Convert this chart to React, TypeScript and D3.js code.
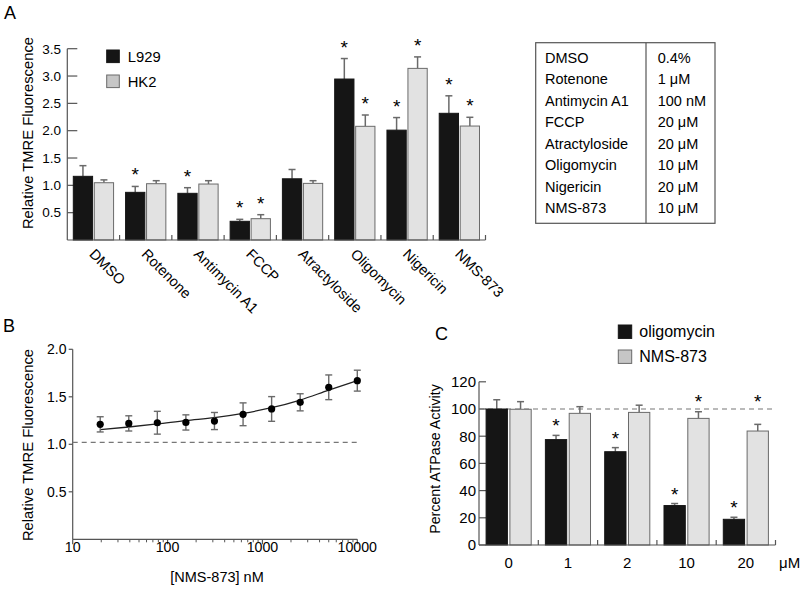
import React from "react";
import * as d3 from "d3";

const FONT = "'Liberation Sans', Arial, Helvetica, sans-serif";

// Panel A data
const categories = ["DMSO", "Rotenone", "Antimycin A1", "FCCP", "Atractyloside", "Oligomycin", "Nigericin", "NMS-873"];
const seriesA = ["L929", "HK2"];
const l929 = [1.165, 0.872, 0.854, 0.342, 1.12, 2.945, 2.01, 2.318];
const l929Err = [0.195, 0.108, 0.103, 0.036, 0.17, 0.375, 0.23, 0.32];
const hk2 = [1.048, 1.03, 1.024, 0.39, 1.036, 2.08, 3.14, 2.085];
const hk2Err = [0.052, 0.055, 0.061, 0.073, 0.049, 0.207, 0.21, 0.16];
const l929Star = [false, true, true, true, false, true, true, true];
const hk2Star = [false, false, false, true, false, true, true, true];
const yTicksA = [0.5, 1.0, 1.5, 2.0, 2.5, 3.0, 3.5];

// Table
const tableDrugs = ["DMSO", "Rotenone", "Antimycin A1", "FCCP", "Atractyloside", "Oligomycin", "Nigericin", "NMS-873"];
const tableDoses = ["0.4%", "1 \u03bcM", "100 nM", "20 \u03bcM", "20 \u03bcM", "10 \u03bcM", "20 \u03bcM", "10 \u03bcM"];

// Panel B data
const concB = [19.5, 39, 78, 156, 312, 625, 1250, 2500, 5000, 10000];
const meanB = [1.21, 1.22, 1.227, 1.23, 1.245, 1.316, 1.372, 1.442, 1.6, 1.67];
const errB = [0.08, 0.08, 0.12, 0.08, 0.09, 0.12, 0.13, 0.09, 0.13, 0.11];
const fitB = [1.154, 1.182, 1.214, 1.25, 1.28, 1.325, 1.385, 1.466, 1.57, 1.67];
const yTicksB = [0.5, 1.0, 1.5, 2.0];
const xTicksB = [10, 100, 1000, 10000];
const refB = 1.02;

// Panel C data
const dosesC = ["0", "1", "2", "10", "20"];
const seriesC = ["oligomycin", "NMS-873"];
const oligo = [100, 77.5, 68.6, 29, 18.9];
const oligoErr = [6.8, 3.1, 3, 1.5, 1.5];
const nms = [99.8, 96.8, 97.5, 93.1, 83.8];
const nmsErr = [5.6, 4.9, 5.3, 4.9, 4.9];
const oligoStar = [false, true, true, true, true];
const nmsStar = [false, false, false, true, true];
const yTicksC = [0, 20, 40, 60, 80, 100, 120];
const refC = 100;

const AXIS = "#555";
const DARK = "#151515";
const LIGHT = "#e2e2e2";
const LEG_LIGHT = "#c6c6c6";
const EDGE = "#6a6a6a";

function Star({ x, cy }: { x: number; cy: number }) {
  return (
    <text x={x} y={cy + 11} fontSize={19} textAnchor="middle" fontFamily={FONT}>*</text>
  );
}

function PanelA() {
  const x = d3.scaleBand<string>().domain(categories).range([67.3, 485.5]);
  const xs = d3.scaleBand<string>().domain(seriesA).range([0, x.bandwidth()]).paddingInner(0.081).paddingOuter(0.286);
  const y = d3.scaleLinear().domain([0, 3.5]).range([240, 48.7]);
  const data = [
    { s: "L929", v: l929, e: l929Err, st: l929Star, fill: DARK, stroke: DARK },
    { s: "HK2", v: hk2, e: hk2Err, st: hk2Star, fill: LIGHT, stroke: EDGE },
  ];
  return (
    <g>
      <text x={4} y={19} fontSize={18} fontFamily={FONT}>A</text>
      <line x1={67.3} x2={67.3} y1={y(3.5)} y2={y(0)} stroke={AXIS} strokeWidth={1.2} />
      {yTicksA.map((t) => (
        <g key={t}>
          <line x1={67.3} x2={77.3} y1={y(t)} y2={y(t)} stroke={AXIS} strokeWidth={1.2} />
          <text x={61} y={y(t) + 4.8} fontSize={13.5} textAnchor="end" fontFamily={FONT}>{t.toFixed(1)}</text>
        </g>
      ))}
      <text transform={`translate(33,133) rotate(-90)`} fontSize={14.8} textAnchor="middle" fontFamily={FONT}>Relative TMRE Fluorescence</text>
      {data.map((d) =>
        categories.map((c, i) => {
          const bx = (x(c) as number) + (xs(d.s) as number);
          const bw = xs.bandwidth();
          const cx = bx + bw / 2;
          const top = y(d.v[i]);
          const et = y(d.v[i] + d.e[i]);
          return (
            <g key={d.s + c}>
              <line x1={cx} x2={cx} y1={top} y2={et} stroke={EDGE} strokeWidth={1.5} />
              <line x1={cx - 3.5} x2={cx + 3.5} y1={et} y2={et} stroke={EDGE} strokeWidth={1.5} />
              <rect x={bx} y={top} width={bw} height={y(0) - top} fill={d.fill} stroke={d.stroke} strokeWidth={1} />
              {d.st[i] && <Star x={cx} cy={et - 16} />}
            </g>
          );
        })
      )}
      <line x1={67.3} x2={485.5} y1={240} y2={240} stroke={AXIS} strokeWidth={1.2} />
      {categories.map((c) => (
        <line key={c} x1={(x(c) as number) + x.bandwidth()} x2={(x(c) as number) + x.bandwidth()} y1={240} y2={235} stroke={AXIS} strokeWidth={1.2} />
      ))}
      {categories.map((c) => {
        const cx = (x(c) as number) + x.bandwidth() / 2;
        return (
          <text key={c} transform={`translate(${cx - 5},255) rotate(45)`} fontSize={14.5} fontFamily={FONT}>{c}</text>
        );
      })}
      {data.map((d, i) => (
        <g key={d.s}>
          <rect x={106.7} y={50 + i * 25} width={12.6} height={12.6} fill={i === 0 ? DARK : LEG_LIGHT} stroke={i === 0 ? DARK : EDGE} />
          <text x={127.7} y={61.5 + i * 25} fontSize={14.8} fontFamily={FONT}>{d.s}</text>
        </g>
      ))}
    </g>
  );
}

function Table() {
  return (
    <g>
      <rect x={535.7} y={42.7} width={179.3} height={180.6} fill="none" stroke={AXIS} strokeWidth={1.2} />
      <line x1={646} x2={646} y1={42.7} y2={223.3} stroke={AXIS} strokeWidth={1.2} />
      {tableDrugs.map((d, i) => (
        <g key={d}>
          <text x={545} y={62.7 + i * 21.5} fontSize={14.5} fontFamily={FONT}>{d}</text>
          <text x={657.7} y={62.7 + i * 21.5} fontSize={14.5} fontFamily={FONT}>{tableDoses[i]}</text>
        </g>
      ))}
    </g>
  );
}

function PanelB() {
  const x = d3.scaleLog().domain([10, 10000]).range([72.7, 357.3]);
  const y = d3.scaleLinear().domain([0, 2]).range([539.3, 349.3]);
  const minor = x.ticks().filter((t) => !xTicksB.includes(t));
  const line = d3.line<number>().x((_, i) => x(concB[i])).y((v) => y(v)).curve(d3.curveMonotoneX);
  return (
    <g>
      <text x={3} y={332} fontSize={18} fontFamily={FONT}>B</text>
      <line x1={72.7} x2={72.7} y1={y(2)} y2={y(0)} stroke={AXIS} strokeWidth={1.2} />
      {yTicksB.map((t) => (
        <g key={t}>
          <line x1={68.7} x2={72.7} y1={y(t)} y2={y(t)} stroke={AXIS} strokeWidth={1.2} />
          <text x={66.5} y={y(t) + 5} fontSize={14} textAnchor="end" fontFamily={FONT}>{t.toFixed(1)}</text>
        </g>
      ))}
      <line x1={72.7} x2={357.3} y1={y(0)} y2={y(0)} stroke={AXIS} strokeWidth={1.2} />
      {xTicksB.map((t) => (
        <g key={t}>
          <line x1={x(t)} x2={x(t)} y1={y(0)} y2={y(0) + 5} stroke={AXIS} strokeWidth={1.2} />
          <text x={x(t)} y={552} fontSize={14.2} textAnchor="middle" fontFamily={FONT}>{t}</text>
        </g>
      ))}
      {minor.map((t) => (
        <line key={t} x1={x(t)} x2={x(t)} y1={y(0)} y2={y(0) + 3} stroke={AXIS} strokeWidth={1} />
      ))}
      <text transform={`translate(33,445) rotate(-90)`} fontSize={14.8} textAnchor="middle" fontFamily={FONT}>Relative TMRE Fluorescence</text>
      <text x={217} y={582} fontSize={14.5} textAnchor="middle" fontFamily={FONT}>[NMS-873] nM</text>
      <line x1={72.7} x2={357.3} y1={y(refB)} y2={y(refB)} stroke="#777" strokeWidth={1.1} strokeDasharray="5,4" />
      <path d={line(fitB) as string} fill="none" stroke="#222" strokeWidth={1.3} />
      {concB.map((c, i) => {
        const cx = x(c);
        const t = y(meanB[i] + errB[i]);
        const b = y(meanB[i] - errB[i]);
        return (
          <g key={c}>
            <line x1={cx} x2={cx} y1={t} y2={b} stroke={EDGE} strokeWidth={1.4} />
            <line x1={cx - 3.5} x2={cx + 3.5} y1={t} y2={t} stroke={EDGE} strokeWidth={1.4} />
            <line x1={cx - 3.5} x2={cx + 3.5} y1={b} y2={b} stroke={EDGE} strokeWidth={1.4} />
            <circle cx={cx} cy={y(meanB[i])} r={3.6} fill="#000" />
          </g>
        );
      })}
    </g>
  );
}

function PanelC() {
  const x = d3.scaleBand<string>().domain(dosesC).range([479, 775.5]);
  const xs = d3.scaleBand<string>().domain(seriesC).range([0, x.bandwidth()]).paddingInner(0.105).paddingOuter(0.298);
  const y = d3.scaleLinear().domain([0, 120]).range([545, 381.8]);
  const data = [
    { s: "oligomycin", v: oligo, e: oligoErr, st: oligoStar, fill: DARK, stroke: DARK },
    { s: "NMS-873", v: nms, e: nmsErr, st: nmsStar, fill: LIGHT, stroke: EDGE },
  ];
  return (
    <g>
      <text x={435} y={340} fontSize={18} fontFamily={FONT}>C</text>
      {data.map((d, i) => (
        <g key={d.s}>
          <rect x={618.3} y={325 + i * 25} width={13.4} height={13.4} fill={i === 0 ? DARK : LEG_LIGHT} stroke={i === 0 ? DARK : EDGE} />
          <text x={639.3} y={337 + i * 25} fontSize={16} fontFamily={FONT}>{d.s}</text>
        </g>
      ))}
      <line x1={479} x2={479} y1={y(120)} y2={y(0)} stroke={AXIS} strokeWidth={1.2} />
      {yTicksC.map((t) => (
        <g key={t}>
          <line x1={479} x2={486} y1={y(t)} y2={y(t)} stroke={AXIS} strokeWidth={1.2} />
          <text x={476} y={y(t) + 5.3} fontSize={15} textAnchor="end" fontFamily={FONT}>{t}</text>
        </g>
      ))}
      <text transform={`translate(440,459) rotate(-90)`} fontSize={14.2} textAnchor="middle" fontFamily={FONT}>Percent ATPase Activity</text>
      <line x1={479} x2={775.5} y1={y(refC)} y2={y(refC)} stroke="#777" strokeWidth={1.1} strokeDasharray="5,4" />
      {data.map((d) =>
        dosesC.map((c, i) => {
          const bx = (x(c) as number) + (xs(d.s) as number);
          const bw = xs.bandwidth();
          const cx = bx + bw / 2;
          const top = y(d.v[i]);
          const et = y(d.v[i] + d.e[i]);
          const starC = d.s === "NMS-873" ? Math.min(et, y(refC)) - 12 : et - 14;
          return (
            <g key={d.s + c}>
              <line x1={cx} x2={cx} y1={top} y2={et} stroke={EDGE} strokeWidth={1.5} />
              <line x1={cx - 3.5} x2={cx + 3.5} y1={et} y2={et} stroke={EDGE} strokeWidth={1.5} />
              <rect x={bx} y={top} width={bw} height={y(0) - top} fill={d.fill} stroke={d.stroke} strokeWidth={1} />
              {d.st[i] && <Star x={cx} cy={starC} />}
            </g>
          );
        })
      )}
      <line x1={479} x2={775.5} y1={545} y2={545} stroke={AXIS} strokeWidth={1.2} />
      {dosesC.map((c) => (
        <line key={c} x1={(x(c) as number) + x.bandwidth()} x2={(x(c) as number) + x.bandwidth()} y1={545} y2={540} stroke={AXIS} strokeWidth={1.2} />
      ))}
      {dosesC.map((c) => (
        <text key={c} x={(x(c) as number) + x.bandwidth() / 2} y={568} fontSize={15} textAnchor="middle" fontFamily={FONT}>{c}</text>
      ))}
      <text x={779} y={568} fontSize={15} fontFamily={FONT}>{"\u03bcM"}</text>
    </g>
  );
}

export default function App() {
  return (
    <svg width={805} height={592} style={{ position: "absolute", left: 0, top: 0, background: "#fff" }} fontFamily={FONT}>
      <rect width={805} height={592} fill="#fff" />
      <PanelA />
      <Table />
      <PanelB />
      <PanelC />
    </svg>
  );
}
